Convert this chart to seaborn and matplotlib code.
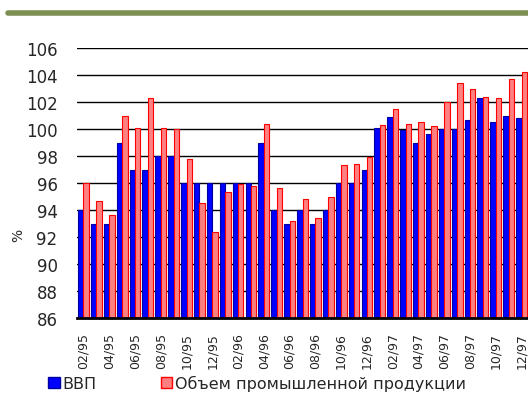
import pandas as pd
import matplotlib
matplotlib.use('Agg')
import matplotlib.pyplot as plt
import seaborn as sns
from matplotlib.patches import Patch
from matplotlib.lines import Line2D

months = ['02/95', '03/95', '04/95', '05/95', '06/95', '07/95', '08/95', '09/95', '10/95', '11/95', '12/95',
          '01/96', '02/96', '03/96', '04/96', '05/96', '06/96', '07/96', '08/96', '09/96', '10/96', '11/96', '12/96',
          '01/97', '02/97', '03/97', '04/97', '05/97', '06/97', '07/97', '08/97', '09/97', '10/97', '11/97', '12/97']
gdp = [94, 93, 93, 99, 97, 97, 98, 98, 96, 96, 96, 96, 96, 96, 99, 94, 93, 94, 93, 94,
       96, 96, 97, 100.1, 100.9, 99.9, 99, 99.6, 100, 100, 100.7, 102.3, 100.5, 101.0, 100.8]
industry = [96, 94.7, 93.6, 101, 100.1, 102.3, 100.1, 100, 97.8, 94.5, 92.4, 95.3, 95.9, 95.8, 100.4,
            95.6, 93.2, 94.8, 93.4, 95.0, 97.3, 97.4, 97.9, 100.3, 101.5, 100.4, 100.5, 100.2, 102.0,
            103.4, 103.0, 102.4, 102.3, 103.7, 104.2]
series_names = ['ВВП', 'Объем промышленной продукции']

df = pd.DataFrame({
    'month': months * 2,
    'value': gdp + industry,
    'series': [series_names[0]] * len(months) + [series_names[1]] * len(months),
})

sns.set_style('white')
plt.rcParams['font.family'] = ['DejaVu Sans']

fig = plt.figure(figsize=(5.28, 4.02), dpi=100)
ax = fig.add_axes([77 / 528, 1 - 319 / 402, 1 - 77 / 528, 270 / 402])

sns.barplot(data=df, x='month', y='value', hue='series', ax=ax,
            palette=['#0000ff', '#ff8080'], saturation=1, width=0.84, legend=False)

for bar, name in zip(ax.patches, df['series']):
    bar.set_zorder(3)
    if name == series_names[0]:
        bar.set_edgecolor('#0000a0')
    else:
        bar.set_edgecolor('#ff0000')
    bar.set_linewidth(0.8)

ax.set_ylim(86, 106)
ax.set_yticks(range(86, 107, 2))
ax.yaxis.grid(True, color='black', linewidth=1)
ax.set_axisbelow(True)
ax.set_xlim(-0.5, len(months) - 0.5)
ax.set_xticks(range(0, len(months), 2))
ax.set_xticklabels(months[::2], rotation=90, fontsize=9)
ax.tick_params(axis='y', labelsize=12, length=0, pad=14)
ax.tick_params(axis='x', length=0, pad=10)
for s in ['top', 'right', 'left']:
    ax.spines[s].set_visible(False)
ax.spines['bottom'].set_color('black')
ax.spines['bottom'].set_linewidth(2)
ax.spines['bottom'].set_zorder(4)
ax.set_xlabel('')
ax.set_ylabel('%', fontsize=10)
ax.yaxis.set_label_coords(-0.115, 0.31)

# green rule at the top
fig.add_artist(Line2D([8 / 528, 1], [1 - 14 / 402] * 2, color='#7d8f52', linewidth=4))

handles = [Patch(facecolor='#0000ff', edgecolor='#0000a0'),
           Patch(facecolor='#ff8080', edgecolor='#ff0000')]
fig.legend(handles, series_names, loc='lower left', bbox_to_anchor=(34 / 528, -0.012),
           ncol=2, frameon=False, fontsize=11.5, handlelength=0.7, handleheight=0.7,
           handletextpad=0.2, columnspacing=4.0)

fig.savefig('out.png', dpi=100)
